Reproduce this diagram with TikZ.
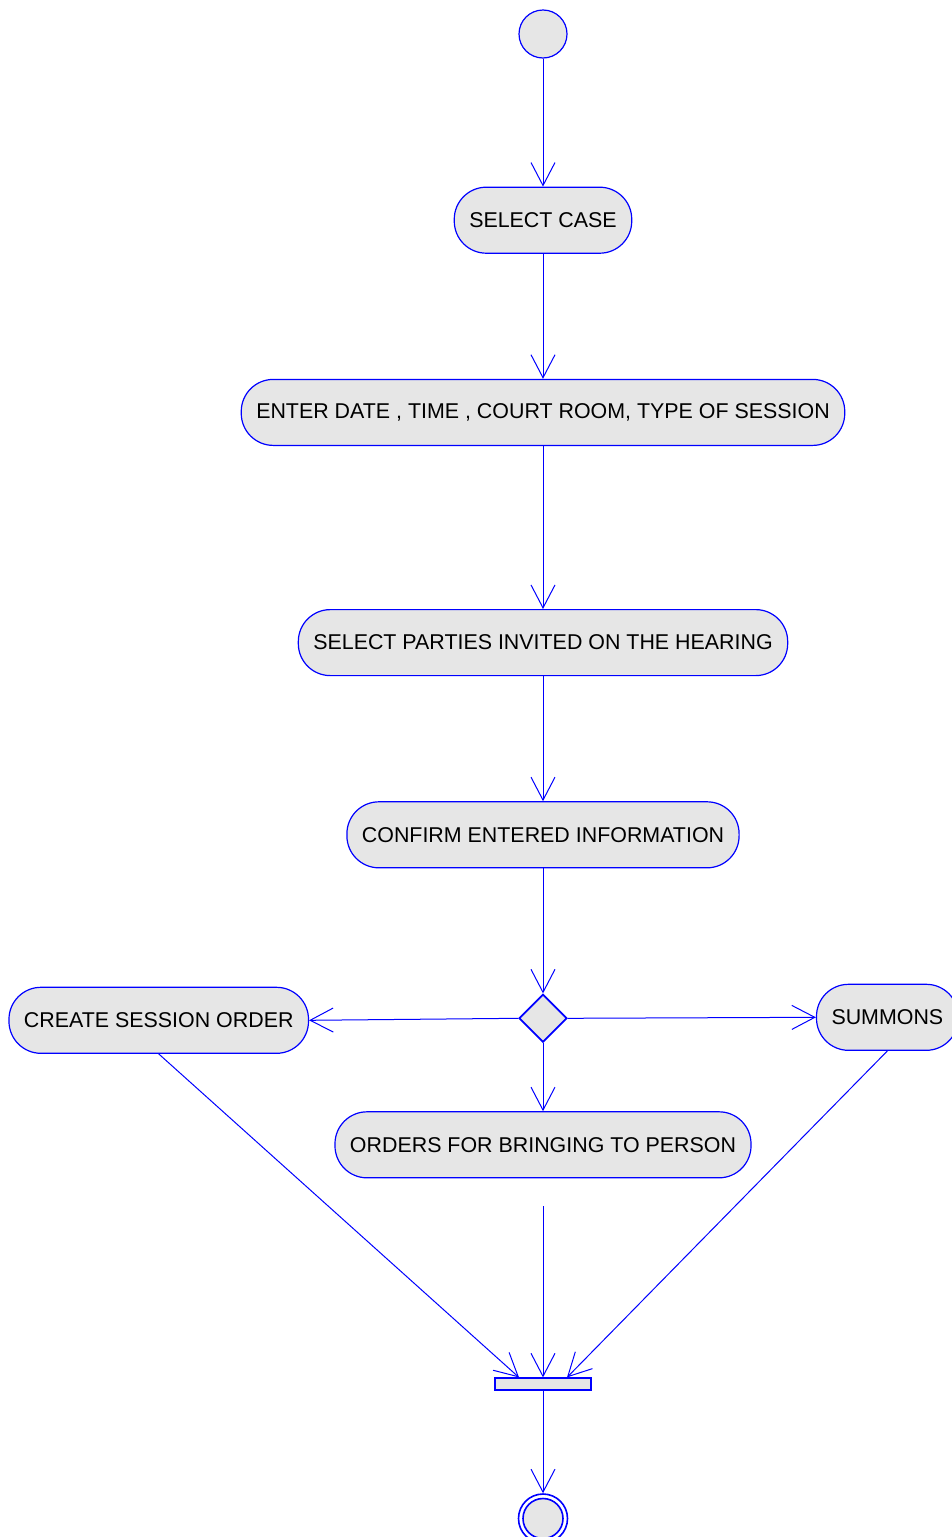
\documentclass[tikz,border=0pt]{standalone}
\usepackage{fontspec}
\setmainfont{Liberation Sans}
\usetikzlibrary{arrows.meta,positioning,shapes.geometric}
\definecolor{umlblue}{HTML}{0000FF}
\definecolor{umlfill}{HTML}{E6E6E6}

\begin{document}
\begin{tikzpicture}[
  x=1pt, y=1pt,
  act/.style={draw=umlblue, line width=1.2pt, rounded corners=32pt, fill=umlfill,
              font=\fontsize{21.4}{25}\selectfont, text=black,
              inner xsep=15pt, minimum height=66pt},
  initial/.style={circle, draw=umlblue, line width=1.2pt, fill=umlfill, minimum size=48pt, inner sep=0pt},
  decision/.style={diamond, draw=umlblue, line width=1.8pt, fill=umlfill,
                   minimum width=48pt, minimum height=48pt, inner sep=0pt},
  joinbar/.style={rectangle, draw=umlblue, line width=1.8pt, fill=umlfill,
                  minimum width=96pt, minimum height=12pt, inner sep=0pt},
  final/.style={circle, draw=umlblue, line width=1.6pt, fill=white, minimum size=49pt, inner sep=0pt},
  finalin/.style={circle, draw=umlblue, line width=1.6pt, fill=umlfill, minimum size=40pt, inner sep=0pt},
  flow/.style={-{Straight Barb[length=23pt, width=24pt]}, umlblue, line width=1pt},
]
\useasboundingbox (0,0) rectangle (952,-1537);

%% ---- main column ----
\node[initial] (start) at (543,-34) {};
\node[act, below=128pt of start]   (selcase) {SELECT CASE};
\node[act, below=125pt of selcase] (enter)   {ENTER DATE , TIME , COURT ROOM, TYPE OF SESSION};
\node[act, below=163pt of enter]   (parties) {SELECT PARTIES INVITED ON THE HEARING};
\node[act, below=125pt of parties] (confirm) {CONFIRM ENTERED INFORMATION};
\node[decision, below=125pt of confirm] (choice) {};

%% ---- branches ----
\node[act, left=209pt of choice, yshift=-2pt] (sessord) {CREATE SESSION ORDER};
\node[act, right=248pt of choice, yshift=1pt] (summons) {SUMMONS};
\node[act, below=68pt of choice] (bringord) {ORDERS FOR BRINGING TO PERSON};
\coordinate[below=28pt of bringord] (bringgap);

%% ---- join and end ----
\node[joinbar, below=199pt of bringord] (join) {};
\node[final, below=102pt of join] (end) {};
\node[finalin] (endin) at (end) {};

%% ---- flows ----
\draw[flow] (start) -- (selcase);
\draw[flow] (selcase) -- (enter);
\draw[flow] (enter) -- (parties);
\draw[flow] (parties) -- (confirm);
\draw[flow] (confirm) -- (choice);
\draw[flow] (choice.west) -- (sessord.east);
\draw[flow] (choice.east) -- (summons.west);
\draw[flow] (choice) -- (bringord);
\draw[flow] (sessord.south) -- ([xshift=-24pt]join.north);
\draw[flow] (bringgap) -- (join.north);
\draw[flow] (summons.south) -- ([xshift=24pt]join.north);
\draw[flow] (join) -- (end);

\end{tikzpicture}
\end{document}
